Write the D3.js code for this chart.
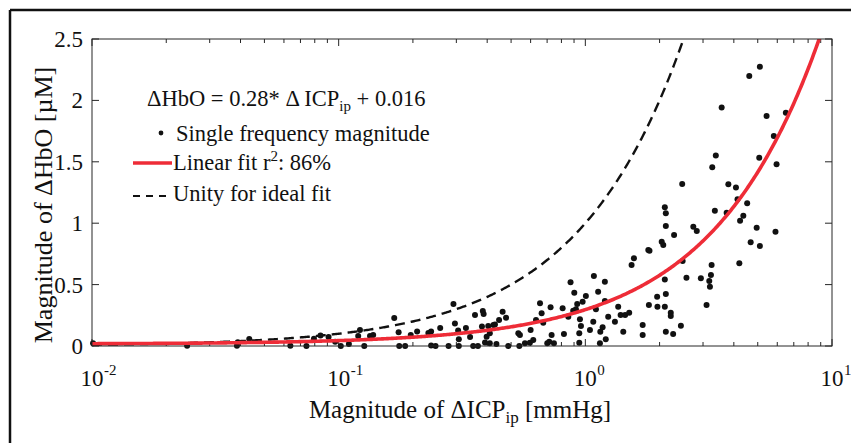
<!DOCTYPE html>
<html>
<head>
<meta charset="utf-8">
<script src="https://cdn.jsdelivr.net/npm/d3@7"></script>
<style>
  html, body { margin: 0; padding: 0; background: #fff; overflow: hidden; }
  svg { display: block; }
  text { font-family: "Liberation Serif", "DejaVu Serif", "Times New Roman", serif; }
</style>
</head>
<body>
<svg id="chart" width="851" height="443" font-family="Liberation Serif, serif"></svg>
<script>
// Magnitude of ΔICP_ip [mmHg] at each single frequency
const icpMagnitude = [
  0.0101, 0.0243, 0.039, 0.0387, 0.0434, 0.0637, 0.074, 0.0794, 0.0844, 0.091, 0.0968,
  0.102, 0.110, 0.120, 0.122, 0.127, 0.134, 0.138,
  0.168, 0.175, 0.176, 0.186, 0.196, 0.208, 0.231, 0.237, 0.237, 0.247,
  0.258, 0.279, 0.292, 0.296, 0.305, 0.307, 0.307, 0.328, 0.341, 0.351,
  0.357, 0.367, 0.381, 0.384, 0.387, 0.392, 0.398, 0.404, 0.410, 0.410,
  0.424, 0.430, 0.436, 0.447, 0.462, 0.477, 0.487, 0.535, 0.543, 0.540,
  0.569, 0.600, 0.596, 0.615, 0.631, 0.655, 0.665, 0.675, 0.701, 0.714,
  0.723, 0.730, 0.746, 0.809, 0.819, 0.853, 0.871, 0.893, 0.902, 0.916,
  0.927, 0.951, 0.960, 0.945, 0.945, 0.975,
  1.005, 1.044, 1.077, 1.083, 1.104, 1.127, 1.146, 1.15, 1.175, 1.20,
  1.20, 1.21, 1.238, 1.318, 1.359, 1.390, 1.425, 1.45, 1.506, 1.54,
  1.574, 1.708, 1.708, 1.80, 1.82, 1.81, 1.955, 1.96, 2.04, 2.07,
  2.10, 2.12, 2.12, 2.10, 2.12, 2.10, 2.12, 2.22, 2.22, 2.27,
  2.29, 2.44, 2.48, 2.47, 2.57, 2.74, 2.83, 2.94, 3.10, 3.18,
  3.20, 3.23, 3.25, 3.27, 3.35, 3.38, 3.57, 3.74, 3.80, 4.08,
  4.14, 4.21, 4.24, 4.37, 4.53, 4.62, 4.68, 4.95, 5.07, 5.10,
  5.10, 5.43, 5.81, 5.90, 5.96, 6.50
];

// Magnitude of ΔHbO [µM] at the same frequencies
const hboMagnitude = [
  0.022, 0.002, 0.030, 0.003, 0.057, 0.003, 0.0, 0.059, 0.085, 0.073, 0.035,
  0.0, 0.016, 0.081, 0.130, 0.0, 0.081, 0.090,
  0.228, 0.112, 0.0, 0.0, 0.090, 0.118, 0.106, 0.118, 0.004, 0.0,
  0.147, 0.0, 0.342, 0.183, 0.126, 0.055, 0.0, 0.147, 0.073, 0.0,
  0.252, 0.0, 0.159, 0.285, 0.261, 0.028, 0.076, 0.163, 0.022, 0.103,
  0.171, 0.175, 0.016, 0.212, 0.279, 0.230, 0.0, 0.103, 0.090, 0.0,
  0.022, 0.130, 0.027, 0.049, 0.212, 0.348, 0.266, 0.190, 0.022, 0.035,
  0.315, 0.090, 0.022, 0.307, 0.098, 0.239, 0.519, 0.287, 0.434, 0.299,
  0.342, 0.217, 0.163, 0.103, 0.027, 0.361,
  0.407, 0.130, 0.198, 0.570, 0.299, 0.442, 0.022, 0.116, 0.152, 0.524,
  0.366, 0.055, 0.239, 0.198, 0.320, 0.252, 0.116, 0.252, 0.271, 0.660,
  0.714, 0.171, 0.090, 0.782, 0.776, 0.334, 0.401, 0.320, 0.849, 0.822,
  1.129, 1.081, 0.977, 0.542, 0.423, 0.320, 0.116, 0.271, 0.244, 0.098,
  0.904, 0.165, 0.692, 1.319, 0.556, 0.971, 0.937, 0.551, 0.334, 0.529,
  0.483, 0.578, 0.660, 1.455, 1.102, 1.551, 1.942, 1.085, 1.317, 1.291,
  1.195, 0.673, 1.020, 1.061, 1.162, 2.199, 0.844, 0.963, 1.533, 2.274,
  0.814, 1.873, 1.710, 0.931, 1.480, 1.900
];

// Linear fit: ΔHbO = 0.28 * ΔICP_ip + 0.016
const fitSlope = 0.28;
const fitIntercept = 0.016;

const xTickValues = [0.01, 0.1, 1, 10];
const xTickExponents = ["-2", "-1", "0", "1"];
const yTickValues = [0, 0.5, 1, 1.5, 2, 2.5];
const yTickLabels = ["0", "0.5", "1", "1.5", "2", "2.5"];
const legendLabels = ["Single frequency magnitude", "Linear fit r", "Unity for ideal fit"];

const FONT = "Liberation Serif, DejaVu Serif, serif";
const svg = d3.select("#chart");
const W = 851, H = 443;
const plot = { left: 92, right: 832, top: 39, bottom: 346 };

svg.append("rect").attr("width", W).attr("height", H).attr("fill", "#fff");
// outer frame (top and left edges fall inside the page)
svg.append("line").attr("x1", 10).attr("x2", W).attr("y1", 10).attr("y2", 10)
  .attr("stroke", "#111").attr("stroke-width", 2.5);
svg.append("line").attr("x1", 10).attr("x2", 10).attr("y1", 10).attr("y2", H)
  .attr("stroke", "#111").attr("stroke-width", 2.5);

const x = d3.scaleLog().domain([0.01, 10]).range([plot.left, plot.right]);
const y = d3.scaleLinear().domain([0, 2.5]).range([plot.bottom, plot.top]);

const axisColor = "#262626";

// ticks (inward, on all four sides)
const minorTicks = [];
for (let e = -2; e < 1; e++) for (let m = 2; m <= 9; m++) minorTicks.push(m * Math.pow(10, e));
const tickG = svg.append("g").attr("stroke", axisColor).attr("stroke-width", 1);
xTickValues.forEach(v => {
  const px = x(v);
  tickG.append("line").attr("x1", px).attr("x2", px).attr("y1", plot.bottom).attr("y2", plot.bottom - 7);
  tickG.append("line").attr("x1", px).attr("x2", px).attr("y1", plot.top).attr("y2", plot.top + 7);
});
minorTicks.forEach(v => {
  const px = x(v);
  tickG.append("line").attr("x1", px).attr("x2", px).attr("y1", plot.bottom).attr("y2", plot.bottom - 4);
  tickG.append("line").attr("x1", px).attr("x2", px).attr("y1", plot.top).attr("y2", plot.top + 4);
});
yTickValues.forEach(v => {
  const py = y(v);
  tickG.append("line").attr("x1", plot.left).attr("x2", plot.left + 7).attr("y1", py).attr("y2", py);
  tickG.append("line").attr("x1", plot.right).attr("x2", plot.right - 7).attr("y1", py).attr("y2", py);
});

// clipped plotting region for the curves
svg.append("clipPath").attr("id", "plotClip")
  .append("rect").attr("x", plot.left).attr("y", plot.top)
  .attr("width", plot.right - plot.left).attr("height", plot.bottom - plot.top);

const curveXs = d3.range(0, 601).map(i => Math.pow(10, -2 + 3 * i / 600));
const line = d3.line().x(d => x(d[0])).y(d => y(d[1]));

// unity line (ideal fit, y = x)
svg.append("path")
  .attr("clip-path", "url(#plotClip)")
  .attr("d", line(curveXs.filter(v => v <= 2.6).map(v => [v, v])))
  .attr("fill", "none").attr("stroke", "#111").attr("stroke-width", 2.4)
  .attr("stroke-dasharray", "10,6");

// data points
svg.append("g").selectAll("circle")
  .data(icpMagnitude.map((v, i) => [v, hboMagnitude[i]]))
  .join("circle")
  .attr("cx", d => x(d[0])).attr("cy", d => y(d[1]))
  .attr("r", 3).attr("fill", "#111");

// linear fit
svg.append("path")
  .attr("clip-path", "url(#plotClip)")
  .attr("d", line(curveXs.map(v => [v, fitSlope * v + fitIntercept])))
  .attr("fill", "none").attr("stroke", "#ee2c37").attr("stroke-width", 3.6);

// axis box
svg.append("rect")
  .attr("x", plot.left).attr("y", plot.top)
  .attr("width", plot.right - plot.left).attr("height", plot.bottom - plot.top)
  .attr("fill", "none").attr("stroke", axisColor).attr("stroke-width", 1);

function txt(sel) { return sel.append("text").attr("font-family", FONT).attr("fill", "#111"); }

// tick labels
const tickFont = 23;
yTickValues.forEach((v, i) => {
  txt(svg).attr("x", 83).attr("y", y(v)).attr("dy", "0.35em")
    .attr("text-anchor", "end").attr("font-size", tickFont)
    .text(yTickLabels[i]);
});
xTickValues.forEach((v, i) => {
  const base = txt(svg).attr("x", x(v)).attr("y", 386)
    .attr("text-anchor", "middle").attr("font-size", tickFont)
    .text("10");
  const w = base.node().getComputedTextLength();
  txt(svg).attr("x", x(v) + w / 2 + 0.5).attr("y", 375)
    .attr("font-size", 15)
    .text(xTickExponents[i]);
});

// axis titles
const xTitle = txt(svg).attr("x", 460).attr("y", 418).attr("text-anchor", "middle").attr("font-size", 25);
xTitle.append("tspan").text("Magnitude of ΔICP");
xTitle.append("tspan").attr("font-size", 17).attr("dy", 5).text("ip");
xTitle.append("tspan").attr("dy", -5).text(" [mmHg]");

txt(svg)
  .attr("transform", "translate(52,205) rotate(-90)")
  .attr("text-anchor", "middle").attr("font-size", 26)
  .text("Magnitude of ΔHbO [µM]");

// fit equation
const eq = txt(svg).attr("x", 147).attr("y", 106).attr("font-size", 22.5);
eq.append("tspan").text("ΔHbO = 0.28* Δ ICP");
eq.append("tspan").attr("font-size", 15).attr("dy", 5).text("ip");
eq.append("tspan").attr("dy", -5).text(" + 0.016");

// legend
const legendFont = 22.5;
svg.append("circle").attr("cx", 161).attr("cy", 133).attr("r", 2.4).attr("fill", "#111");
txt(svg).attr("x", 176).attr("y", 141).attr("font-size", legendFont).text(legendLabels[0]);

svg.append("line").attr("x1", 133).attr("x2", 172).attr("y1", 163).attr("y2", 163)
  .attr("stroke", "#ee2c37").attr("stroke-width", 3.6);
const lin = txt(svg).attr("x", 173).attr("y", 170).attr("font-size", legendFont);
lin.append("tspan").text(legendLabels[1]);
lin.append("tspan").attr("font-size", 15).attr("dy", -9).text("2");
lin.append("tspan").attr("dy", 9).text(": 86%");

svg.append("line").attr("x1", 133).attr("x2", 172).attr("y1", 196).attr("y2", 196)
  .attr("stroke", "#111").attr("stroke-width", 2).attr("stroke-dasharray", "7,6");
txt(svg).attr("x", 173).attr("y", 201).attr("font-size", legendFont).text(legendLabels[2]);
</script>
</body>
</html>
